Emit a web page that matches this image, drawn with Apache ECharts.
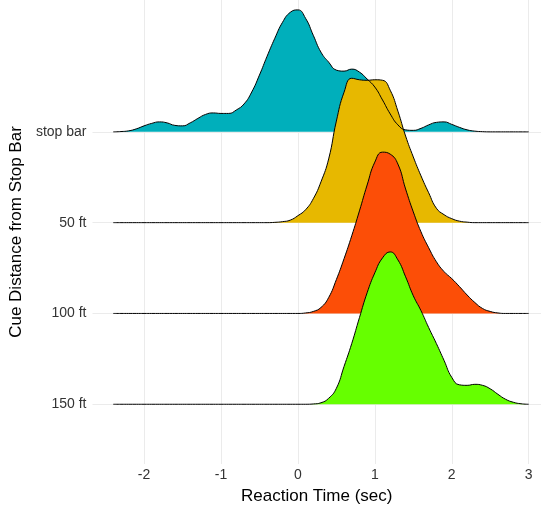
<!DOCTYPE html>
<html>
<head>
<meta charset="utf-8">
<script src="https://cdn.jsdelivr.net/npm/echarts@6/dist/echarts.min.js"></script>
<style>
  html, body { margin: 0; padding: 0; background: #fff; }
  #chart { width: 542px; height: 510px; }
</style>
</head>
<body>
<div id="chart"></div>
<script>
// reaction time grid (sec)
const times = [
  -2.4, -2.3, -2.2, -2.1, -2.0, -1.9, -1.8, -1.7, -1.6, -1.5,
  -1.4, -1.3, -1.2, -1.1, -1.0, -0.9, -0.8, -0.7, -0.6, -0.5,
  -0.4, -0.3, -0.2, -0.1, 0.0, 0.1, 0.2, 0.3, 0.4, 0.5,
  0.6, 0.7, 0.8, 0.9, 1.0, 1.1, 1.2, 1.3, 1.4, 1.5,
  1.6, 1.7, 1.8, 1.9, 2.0, 2.1, 2.2, 2.3, 2.4, 2.5,
  2.6, 2.7, 2.8, 2.9, 3.0
];

// ridge heights (roughly 91 = one row spacing)
const stopBar = [
  0, 0.3, 1, 3, 6, 8.5, 10, 9, 6.5, 6,
  9, 13.5, 17.5, 19, 18.5, 18.5, 22, 28, 40, 57,
  76, 94, 110, 120, 122.5, 114, 97, 80, 70, 62,
  61, 63, 60, 53, 45, 32, 18, 7, 2, 1.5,
  3.5, 7, 9.5, 10, 7.5, 4.5, 2, 0.7, 0.2, 0,
  0, 0, 0, 0, 0
];
const ft50 = [
  0, 0, 0, 0, 0, 0, 0, 0, 0, 0,
  0, 0, 0, 0, 0, 0, 0, 0, 0, 0,
  0, 0.3, 1, 2.5, 7, 13, 24, 41, 64, 102,
  131, 145, 143.5, 143, 143.5, 143, 133, 112, 87, 66,
  47, 30, 14.5, 8, 4, 1.5, 0.5, 0, 0, 0,
  0, 0, 0, 0, 0
];
const ft100 = [
  0, 0, 0, 0, 0, 0, 0, 0, 0, 0,
  0, 0, 0, 0, 0, 0, 0, 0, 0, 0,
  0, 0, 0, 0, 0, 0.5, 2, 6, 16, 34,
  55, 78, 103, 129, 152, 162, 160, 150, 125, 102,
  82, 66, 52, 42, 35, 27, 18.5, 11, 5, 2,
  0.5, 0, 0, 0, 0
];
const ft150 = [
  0, 0, 0, 0, 0, 0, 0, 0, 0, 0,
  0, 0, 0, 0, 0, 0, 0, 0, 0, 0,
  0, 0, 0, 0, 0, 0, 0.3, 1.5, 6, 16,
  38, 61, 87, 112, 132, 147, 153, 145, 128, 109,
  94, 77, 61, 44, 27, 19.5, 19, 20, 19, 15.5,
  10, 5, 2, 0.5, 0
];

const rows = ['150 ft', '100 ft', '50 ft', 'stop bar'];
const colors = ['#00AFBB', '#E7B800', '#FC4E07', '#66FF00'];
const ridgeScale = 1 / 91.2;

// top row first so lower ridges are painted over it
const ridges = [
  { name: 'stop bar', base: 3, values: stopBar },
  { name: '50 ft', base: 2, values: ft50 },
  { name: '100 ft', base: 1, values: ft100 },
  { name: '150 ft', base: 0, values: ft150 }
];

const chart = echarts.init(document.getElementById('chart'));

const series = ridges.map((r, k) => ({
  name: r.name,
  type: 'line',
  smooth: 0.5,
  symbol: 'none',
  silent: true,
  data: times.map((t, i) => [t, r.base + r.values[i] * ridgeScale]),
  lineStyle: { color: '#000', width: 1 },
  areaStyle: { color: colors[k], opacity: 1, origin: r.base }
}));

const option = {
  animation: false,
  grid: { left: 92, right: 1, top: 0, bottom: 44 },
  xAxis: {
    type: 'value',
    min: -2.67,
    max: 3.16,
    name: 'Reaction Time (sec)',
    nameLocation: 'middle',
    nameGap: 24,
    nameTextStyle: { color: '#000', fontSize: 17, fontFamily: 'Liberation Sans' },
    axisLine: { show: false },
    axisTick: { show: false, customValues: [-2, -1, 0, 1, 2, 3] },
    axisLabel: {
      customValues: [-2, -1, 0, 1, 2, 3],
      color: '#333', fontSize: 14, fontFamily: 'Liberation Sans', margin: 4
    },
    splitLine: { show: true, lineStyle: { color: '#ebebeb', width: 1 } }
  },
  yAxis: {
    type: 'value',
    min: -0.658,
    max: 4.452,
    name: 'Cue Distance from Stop Bar',
    nameLocation: 'middle',
    nameGap: 64,
    nameRotate: 90,
    nameTextStyle: { color: '#000', fontSize: 17, fontFamily: 'Liberation Sans' },
    axisLine: { show: false },
    axisTick: { show: false, customValues: [0, 1, 2, 3] },
    axisLabel: {
      customValues: [0, 1, 2, 3],
      formatter: v => rows[Math.round(v)],
      color: '#333', fontSize: 14, fontFamily: 'Liberation Sans', margin: 6
    },
    splitLine: { show: true, lineStyle: { color: '#ebebeb', width: 1 } }
  },
  series: series
};

chart.setOption(option);
</script>
</body>
</html>
